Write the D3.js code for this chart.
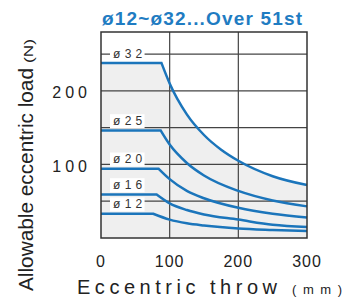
<!DOCTYPE html>
<html>
<head>
<meta charset="utf-8">
<script src="https://cdn.jsdelivr.net/npm/d3@7"></script>
<style>
  body { margin: 0; background: #fff; }
  text { font-family: "Liberation Sans", Arial, sans-serif; }
</style>
</head>
<body>
<div id="chart"></div>
<script>
// Chart size and plot box
const width = 358;
const height = 302;
const margin = { top: 32, right: 51, bottom: 64, left: 101 };

// Data: [eccentric throw (mm), allowable load (N)]
const bores = ["ø32", "ø25", "ø20", "ø16", "ø12"];
const load32 = [[0, 238], [88, 238], [100, 210], [125, 168], [150, 140], [175, 120], [200, 105], [250, 84], [300, 72]];
const load25 = [[0, 146], [87, 146], [100, 127], [125, 102], [150, 85], [200, 64], [250, 51], [300, 43]];
const load20 = [[0, 94], [84, 94], [100, 80], [125, 64], [150, 54], [200, 41], [250, 33], [300, 28]];
const load16 = [[0, 59], [81, 59], [100, 47], [125, 38], [150, 32], [200, 25], [250, 18], [300, 15]];
const load12 = [[0, 33], [76, 33], [100, 25], [125, 20], [150, 17], [200, 13], [250, 11], [300, 9.5]];
const curves = [load32, load25, load20, load16, load12];

const xTicks = [0, 100, 200, 300];
const yTicks = [100, 200];
const yGrid = [50, 100, 150, 200, 250];

const blue = "#1b75bb";

const svg = d3.select("#chart")
    .append("svg")
    .attr("width", width)
    .attr("height", height);

const x = d3.scaleLinear()
    .domain([0, 300])
    .range([margin.left, width - margin.right]);

const y = d3.scaleLinear()
    .domain([0, 280])
    .range([height - margin.bottom, margin.top]);

// flat part drawn straight, falling part smoothed
const flatLine = d3.line().x(d => x(d[0])).y(d => y(d[1]));
const fallLine = d3.line().x(d => x(d[0])).y(d => y(d[1])).curve(d3.curveMonotoneX);
function curvePath(pts) {
    return flatLine(pts.slice(0, 2)) + fallLine(pts.slice(1)).replace(/^M/, "L");
}

// Grey area under the biggest bore
svg.append("path")
    .attr("d", curvePath(load32) + `L${x(300)},${y(0)}L${x(0)},${y(0)}Z`)
    .attr("fill", "#efefef");

// Grid
svg.append("g")
    .selectAll("line")
    .data([100, 200])
    .join("line")
    .attr("x1", d => x(d)).attr("x2", d => x(d))
    .attr("y1", y(0)).attr("y2", y(280))
    .attr("stroke", "#444")
    .attr("stroke-width", 1.2);

svg.append("g")
    .selectAll("line")
    .data(yGrid)
    .join("line")
    .attr("x1", x(0)).attr("x2", x(300))
    .attr("y1", d => y(d)).attr("y2", d => y(d))
    .attr("stroke", "#444")
    .attr("stroke-width", 1.2);

// Bore labels with a white patch behind them
const labels = svg.append("g");
bores.forEach(function (name, i) {
    const g = labels.append("g");
    const t = g.append("text")
        .attr("x", x(0) + 12)
        .attr("y", y(curves[i][0][1] + 13))
        .attr("dy", "0.35em")
        .attr("font-size", 12)
        .attr("letter-spacing", 4.3)
        .attr("fill", "#333")
        .text(name);
    const b = t.node().getBBox();
    g.insert("rect", "text")
        .attr("x", b.x - 3)
        .attr("y", b.y)
        .attr("width", b.width + 1)
        .attr("height", b.height)
        .attr("fill", "#fff");
});

// Curves
svg.append("g")
    .selectAll("path")
    .data(curves)
    .join("path")
    .attr("d", d => curvePath(d))
    .attr("fill", "none")
    .attr("stroke", blue)
    .attr("stroke-width", 2.5);

// Plot border
svg.append("rect")
    .attr("x", x(0))
    .attr("y", y(280))
    .attr("width", x(300) - x(0))
    .attr("height", y(0) - y(280))
    .attr("fill", "none")
    .attr("stroke", "#333")
    .attr("stroke-width", 1.5);

// Tick labels
svg.append("g")
    .selectAll("text")
    .data(xTicks)
    .join("text")
    .attr("x", d => x(d))
    .attr("y", y(0) + 29)
    .attr("text-anchor", "middle")
    .attr("font-size", 16)
    .attr("letter-spacing", 1)
    .attr("fill", "#222")
    .text(d => d);

svg.append("g")
    .selectAll("text")
    .data(yTicks)
    .join("text")
    .attr("x", x(0) - 10)
    .attr("y", d => y(d))
    .attr("dy", "0.45em")
    .attr("text-anchor", "end")
    .attr("font-size", 16)
    .attr("letter-spacing", 4)
    .attr("fill", "#222")
    .text(d => d);

// Title
svg.append("text")
    .attr("x", 102)
    .attr("y", 25)
    .attr("font-size", 19)
    .attr("font-weight", "bold")
    .attr("fill", "#1f7cc2")
    .attr("textLength", 200)
    .attr("lengthAdjust", "spacing")
    .text("ø12~ø32...Over 51st");

// Axis titles
svg.append("text")
    .attr("x", 77)
    .attr("y", 294)
    .attr("font-size", 20)
    .attr("fill", "#222")
    .attr("textLength", 200)
    .attr("lengthAdjust", "spacing")
    .text("Eccentric throw");
svg.append("text")
    .attr("x", 292)
    .attr("y", 294)
    .attr("font-size", 13)
    .attr("fill", "#222")
    .attr("textLength", 50)
    .attr("lengthAdjust", "spacing")
    .text("(mm)");

svg.append("text")
    .attr("transform", "translate(33,291) rotate(-90)")
    .attr("font-size", 21)
    .attr("fill", "#222")
    .attr("textLength", 223)
    .attr("lengthAdjust", "spacingAndGlyphs")
    .text("Allowable eccentric load");
svg.append("text")
    .attr("transform", "translate(33,63) rotate(-90)")
    .attr("font-size", 13)
    .attr("fill", "#222")
    .attr("textLength", 24)
    .attr("lengthAdjust", "spacingAndGlyphs")
    .text("(N)");
</script>
</body>
</html>
